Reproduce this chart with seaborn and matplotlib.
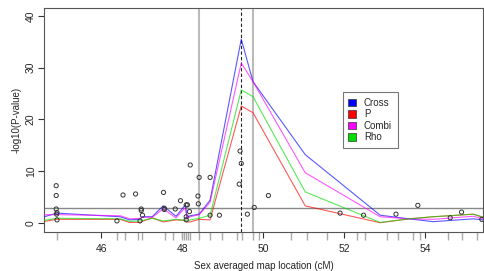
import numpy as np
import pandas as pd
import matplotlib
matplotlib.use("Agg")
import matplotlib.pyplot as plt
import seaborn as sns
from matplotlib.patches import Patch

# ---- data ----
x_nodes = [44.59, 44.91, 46.47, 46.70, 46.96, 47.02, 47.26, 47.53, 47.85, 48.08, 48.12,
           48.20, 48.42, 48.69, 49.46, 49.75, 51.04, 52.89, 53.60, 54.20, 55.19, 55.43]
cross = [1.2, 1.9, 1.2, 0.6, 0.7, 1.2, 1.2, 3.3, 1.3, 3.5, 1.1,
         1.4, 1.7, 4.4, 35.5, 27.3, 13.2, 1.5, 0.8, 0.25, 0.8, 0.6]
p_val = [0.3, 0.7, 0.7, 0.1, 0.1, 0.3, 1.0, 0.2, 0.6, 0.5, 0.2,
         0.2, 0.7, 0.6, 22.6, 21.3, 3.3, 0.05, 0.8, 1.2, 1.7, 1.1]
combi = [1.6, 1.6, 1.4, 0.8, 0.9, 1.1, 1.1, 2.7, 1.0, 3.0, 0.8,
         1.2, 1.6, 4.0, 30.9, 27.3, 9.7, 1.2, 0.8, 0.7, 1.3, 0.8]
rho = [0.5, 0.9, 0.8, 0.3, 0.4, 0.5, 0.9, 0.4, 0.7, 0.5, 0.3,
       0.6, 0.9, 1.5, 25.7, 24.4, 6.0, 0.1, 0.8, 1.2, 1.7, 1.1]
series_names = ["Cross", "P", "Combi", "Rho"]
series_colors = ["blue", "red", "magenta", "#00dd00"]

pt_x = [44.89, 44.89, 44.89, 44.91, 44.90, 44.91, 46.39, 46.54, 46.85, 46.96, 46.99, 46.99,
        47.02, 47.54, 47.56, 47.56, 47.83, 47.96, 48.10, 48.13, 48.10, 48.18, 48.10, 48.20,
        48.39, 48.40, 48.42, 48.69, 48.69, 48.92, 49.43, 49.46, 49.41, 49.61, 49.78, 50.13,
        51.90, 52.48, 53.28, 53.82, 54.62, 54.90, 55.40]
pt_y = [7.2, 5.3, 2.7, 2.0, 1.7, 0.6, 0.4, 5.4, 5.6, 0.4, 2.7, 2.4,
        1.5, 5.9, 2.85, 2.6, 2.7, 4.3, 3.5, 3.5, 1.2, 2.2, 0.6, 11.2,
        5.2, 3.7, 8.8, 8.8, 1.5, 1.5, 13.9, 11.5, 7.5, 1.7, 3.0, 5.3,
        1.9, 1.5, 1.7, 3.4, 1.0, 2.1, 0.7]

rug_x = [44.90, 46.40, 46.60, 46.92, 47.00, 47.58, 47.77, 48.00, 48.05, 48.10, 48.15, 48.20,
         48.42, 48.70, 48.98, 49.36, 49.47, 49.75, 49.90, 50.70, 51.08, 51.57, 52.31, 52.52,
         53.05, 53.34, 53.70, 53.88, 54.57, 54.90, 55.27]

vlines_gray = [48.42, 49.75]
vline_dash = 49.46
hline = 2.9

x_ticks = [46, 48, 50, 52, 54]
y_ticks = [0, 10, 20, 30, 40]

# ---- build long table ----
frames = []
for name, vals in zip(series_names, [cross, p_val, combi, rho]):
    frames.append(pd.DataFrame({"x": x_nodes, "y": vals, "series": name}))
df = pd.concat(frames, ignore_index=True)
pts = pd.DataFrame({"x": pt_x, "y": pt_y})

sns.set_style("white")
plt.rcParams["font.family"] = ["Liberation Sans", "DejaVu Sans"]

fig = plt.figure(figsize=(4.84, 2.71), dpi=100)
ax = fig.add_axes([0.091, 0.144, 0.907, 0.826])

for xv in vlines_gray:
    ax.axvline(xv, color="#bbbbbb", lw=1.5, zorder=1)
ax.axhline(hline, color="#888888", lw=1.0, zorder=1)
ax.axvline(vline_dash, color="#222222", lw=0.8, ls=(0, (3, 2)), zorder=1)

sns.lineplot(data=df, x="x", y="y", hue="series", hue_order=series_names,
             palette=dict(zip(series_names, series_colors)), sort=False,
             estimator=None, lw=0.8, alpha=0.65, legend=False, ax=ax, zorder=3)

sns.scatterplot(data=pts, x="x", y="y", marker="o", s=9, facecolors="none",
                edgecolor="#333333", linewidth=0.7, ax=ax, zorder=4)

sns.rugplot(x=rug_x, height=-0.035, clip_on=False, color="#aaaaaa", lw=0.8, ax=ax)

ax.set_xlim(44.59, 55.43)
ax.set_ylim(-1.74, 41.5)
ax.set_xticks(x_ticks)
ax.set_yticks(y_ticks)
ax.set_xticklabels([str(t) for t in x_ticks])
ax.set_yticklabels([str(t) for t in y_ticks], rotation=90, va="center")
ax.tick_params(axis="both", direction="out", length=4, width=0.8, color="#333333",
               labelsize=7.5, pad=2, bottom=True, left=True)
ax.tick_params(axis="x", pad=5)
for s in ax.spines.values():
    s.set_color("#555555")
    s.set_linewidth(0.8)

ax.set_xlabel("Sex averaged map location (cM)", fontsize=7, labelpad=5)
ax.set_ylabel("-log10(P-value)", fontsize=7, labelpad=3)

handles = [Patch(facecolor=c, edgecolor="#333333", linewidth=0.5) for c in series_colors]
leg = ax.legend(handles, series_names, loc="upper left", bbox_to_anchor=(0.68, 0.625),
                frameon=True, fancybox=False, fontsize=7, handlelength=0.8,
                handleheight=0.8, handletextpad=0.8, borderpad=0.6, labelspacing=0.15,
                borderaxespad=0)
leg.get_frame().set_edgecolor("#555555")
leg.get_frame().set_linewidth(0.8)

fig.savefig("out.png", dpi=100)
